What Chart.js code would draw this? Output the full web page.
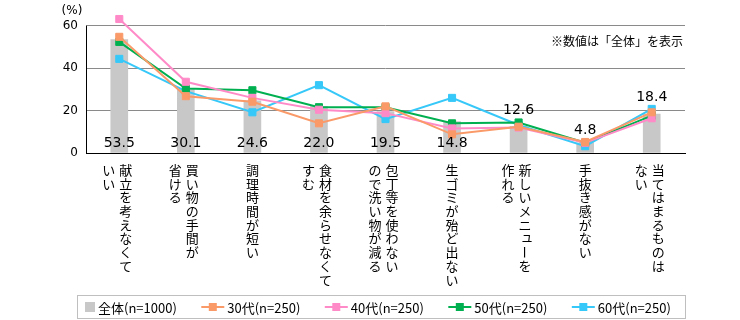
<!DOCTYPE html>
<html>
<head>
<meta charset="utf-8">
<script src="https://cdn.jsdelivr.net/npm/chart.js@4"></script>
<style>
  html, body { margin: 0; padding: 0; background: #fff; }
  #wrap { width: 740px; height: 320px; }
</style>
</head>
<body>
<div id="wrap"><canvas id="meritChart" width="740" height="320"></canvas></div>
<script>
// --- data ---
var categories = [
    ['献立を考えなくて', 'いい'],
    ['買い物の手間が', '省ける'],
    ['調理時間が短い'],
    ['食材を余らせなくて', 'すむ'],
    ['包丁等を使わない', 'ので洗い物が減る'],
    ['生ゴミが殆ど出ない'],
    ['新しいメニューを', '作れる'],
    ['手抜き感がない'],
    ['当てはまるものは', 'ない']
];
var seriesNames = ['全体(n=1000)', '30代(n=250)', '40代(n=250)', '50代(n=250)', '60代(n=250)'];
var totalValues = [53.5, 30.1, 24.6, 22.0, 19.5, 14.8, 12.6, 4.8, 18.4];
var age30Values = [54.8, 26.8, 24.2, 14.0, 22.0, 8.8, 12.4, 5.2, 19.2];
var age40Values = [63.2, 33.6, 26.0, 20.4, 18.8, 11.6, 12.0, 4.8, 16.4];
var age50Values = [52.4, 30.4, 29.6, 21.6, 21.6, 14.0, 14.4, 4.8, 17.6];
var age60Values = [44.4, 29.2, 19.2, 32.0, 16.0, 26.0, 13.2, 3.2, 20.8];
var yTicks = [0, 20, 40, 60];

var colors = ['#c8c8c8', '#fa9a69', '#ff8ac8', '#00b050', '#36c8f8'];

// --- plugins ---
// value labels for the 全体 bars
var barValueLabels = {
    id: 'barValueLabels',
    afterDatasetsDraw: function (chart, args, opts) {
        var ctx = chart.ctx;
        var area = chart.chartArea;
        var barMeta = chart.getDatasetMeta(0);
        ctx.save();
        ctx.font = '14px "DejaVu Sans"';
        ctx.fillStyle = '#000';
        ctx.textAlign = 'center';
        ctx.textBaseline = 'middle';
        totalValues.forEach(function (v, i) {
            var bar = barMeta.data[i];
            var y = area.bottom - 10;
            if (opts.above.indexOf(i) >= 0) {
                var top = bar.y;
                for (var d = 1; d < chart.data.datasets.length; d++) {
                    top = Math.min(top, chart.getDatasetMeta(d).data[i].y);
                }
                y = top - 12;
            }
            ctx.fillText(v.toFixed(1), bar.x, y);
        });
        ctx.restore();
    }
};

// vertical (tategaki) category labels
var verticalLabels = {
    id: 'verticalLabels',
    afterDraw: function (chart) {
        var ctx = chart.ctx;
        var xs = chart.scales.x;
        var startY = chart.chartArea.bottom + 17;
        ctx.save();
        ctx.font = '13px "Noto Sans CJK JP"';
        ctx.fillStyle = '#000';
        ctx.textAlign = 'center';
        ctx.textBaseline = 'middle';
        chart.data.labels.forEach(function (lines, i) {
            var cx = xs.getPixelForValue(i);
            lines.forEach(function (line, k) {
                var colX = cx + (lines.length - 1) * 6.5 - k * 17;
                Array.from(line).forEach(function (ch, j) {
                    var cy = startY + j * 13.7;
                    if (ch === 'ー') {
                        ctx.save();
                        ctx.translate(colX, cy);
                        ctx.rotate(Math.PI / 2);
                        ctx.fillText(ch, 0, 0);
                        ctx.restore();
                    } else if ('ュャョッぁぃぅぇぉっゃゅょ'.indexOf(ch) >= 0) {
                        ctx.fillText(ch, colX + 2, cy - 2);
                    } else {
                        ctx.fillText(ch, colX, cy);
                    }
                });
            });
        });
        ctx.restore();
    }
};

// left axis line (only up to the top tick), unit, note and boxed legend
var extras = {
    id: 'extras',
    beforeDatasetsDraw: function (chart) {
        var ctx = chart.ctx;
        var ys = chart.scales.y;
        var x = Math.round(chart.chartArea.left) + 0.5;
        ctx.save();
        ctx.strokeStyle = '#000';
        ctx.lineWidth = 1;
        ctx.beginPath();
        ctx.moveTo(x, ys.getPixelForValue(yTicks[yTicks.length - 1]));
        ctx.lineTo(x, ys.getPixelForValue(0));
        ctx.stroke();
        ctx.restore();
    },
    afterDraw: function (chart) {
        var ctx = chart.ctx;
        var area = chart.chartArea;
        ctx.save();
        ctx.fillStyle = '#000';
        ctx.textBaseline = 'middle';

        ctx.font = '12px "DejaVu Sans"';
        ctx.textAlign = 'center';
        ctx.fillText('(%)', area.left - 14, 11);

        ctx.font = '12px "Noto Sans CJK JP"';
        ctx.textAlign = 'right';
        ctx.fillText('※数値は「全体」を表示', area.right - 2, 41);

        // legend box
        ctx.strokeStyle = '#bfbfbf';
        ctx.lineWidth = 1;
        ctx.strokeRect(77.5, 295.5, area.right - 77, 23);

        ctx.font = '13px "Noto Sans CJK JP"';
        ctx.textAlign = 'left';
        var x = 85, y = 307;
        chart.data.datasets.forEach(function (ds, i) {
            if (i === 0) {
                ctx.fillStyle = ds.backgroundColor;
                ctx.fillRect(x, y - 5, 10, 10);
                x += 13;
            } else {
                ctx.strokeStyle = ds.borderColor;
                ctx.lineWidth = 2;
                ctx.beginPath();
                ctx.moveTo(x, y);
                ctx.lineTo(x + 23, y);
                ctx.stroke();
                ctx.fillStyle = ds.borderColor;
                ctx.fillRect(x + 7.5, y - 4, 8, 8);
                x += 26;
            }
            ctx.fillStyle = '#000';
            ctx.fillText(ds.label, x, y + 1);
            x += ctx.measureText(ds.label).width + 24.5;
        });
        ctx.restore();
    }
};

function lineSet(label, values, color, order) {
    return {
        type: 'line',
        label: label,
        data: values,
        borderColor: color,
        backgroundColor: color,
        borderWidth: 2,
        tension: 0,
        clip: false,
        pointStyle: 'rect',
        pointRadius: 5,
        pointBorderWidth: 1,
        pointBorderColor: color,
        pointBackgroundColor: color,
        order: order
    };
}

Chart.defaults.font.family = '"DejaVu Sans"';
Chart.defaults.color = '#000';

new Chart(document.getElementById('meritChart'), {
    type: 'bar',
    data: {
        labels: categories,
        datasets: [
            {
                type: 'bar',
                label: seriesNames[0],
                data: totalValues,
                backgroundColor: colors[0],
                borderWidth: 0,
                barThickness: 17,
                order: 5
            },
            lineSet(seriesNames[1], age30Values, colors[1], 1),
            lineSet(seriesNames[2], age40Values, colors[2], 2),
            lineSet(seriesNames[3], age50Values, colors[3], 3),
            lineSet(seriesNames[4], age60Values, colors[4], 4)
        ]
    },
    options: {
        responsive: false,
        animation: false,
        // headroom above 60 so the 40代 point at 63.2 is drawn; 60 stays at y≈25
        layout: { padding: { left: 0, right: 55, top: 14.33, bottom: 0 } },
        plugins: {
            legend: { display: false },
            tooltip: { enabled: false },
            barValueLabels: { above: [6, 7, 8] }
        },
        scales: {
            x: {
                ticks: { display: false },
                grid: { display: true, color: 'rgba(0,0,0,0)', drawTicks: false },
                border: { display: true, color: '#000', width: 1 },
                afterFit: function (scale) { scale.height = 167; }
            },
            y: {
                min: 0,
                max: 65,
                afterBuildTicks: function (scale) {
                    scale.ticks = yTicks.map(function (v) { return { value: v }; });
                },
                ticks: { padding: 8, font: { size: 12 }, color: '#000' },
                grid: {
                    drawTicks: false,
                    color: function (c) { return c.tick && c.tick.value === 0 ? '#000' : '#8a8a8a'; }
                },
                border: { display: false },
                afterFit: function (scale) { scale.width = 86; }
            }
        }
    },
    plugins: [barValueLabels, verticalLabels, extras]
});
</script>
</body>
</html>
